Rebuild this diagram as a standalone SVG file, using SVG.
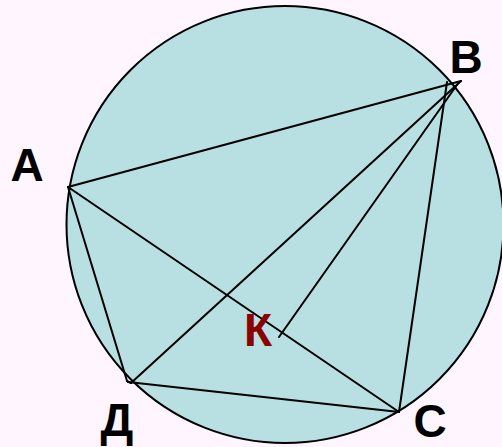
<svg xmlns="http://www.w3.org/2000/svg" width="502" height="447" viewBox="0 0 502 447">
<style>
.lbl{font-family:"Liberation Sans",Arial,sans-serif;font-weight:bold;font-size:46px;text-anchor:middle;fill:#000}
.k{fill:#8B0000}
.edge{stroke:#000;stroke-width:2;fill:none;stroke-linecap:round;stroke-linejoin:round}
</style>
<rect x="0" y="0" width="502" height="447" fill="#FFF5FF"/>
<g id="circle">
<circle cx="285" cy="224.5" r="218.5" fill="#B8DFE1" stroke="#000" stroke-width="2"/>
</g>
<g id="connectors">
<line class="edge" x1="68" y1="187" x2="461" y2="81"/>
<line class="edge" x1="68" y1="187" x2="399" y2="412"/>
<line class="edge" x1="68" y1="187" x2="127" y2="381"/>
<line class="edge" x1="461" y1="81" x2="131" y2="383"/>
<line class="edge" x1="459" y1="82" x2="279" y2="337"/>
<line class="edge" x1="447" y1="82" x2="399" y2="412"/>
<line class="edge" x1="128" y1="382" x2="399" y2="412"/>
<line class="edge" x1="127" y1="381" x2="131" y2="383"/>
</g>
<g id="node-A"><text class="lbl" x="27" y="181">А</text></g>
<g id="node-B"><text class="lbl" x="466" y="73">В</text></g>
<g id="node-C"><text class="lbl" x="430" y="437">С</text></g>
<g id="node-D"><text class="lbl" x="117" y="436">Д</text></g>
<g id="node-K"><text class="lbl k" x="258" y="346">К</text></g>
</svg>
